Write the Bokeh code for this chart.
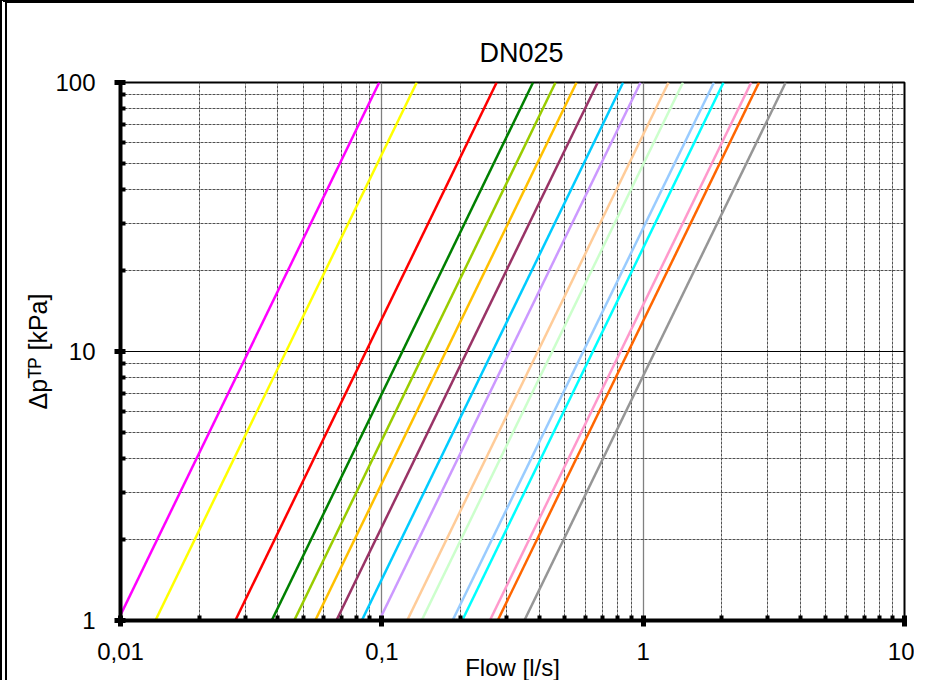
from bokeh.plotting import figure
from bokeh.models import FixedTicker, CustomJSTickFormatter, Title
from bokeh.embed import file_html
from bokeh.resources import INLINE

# Flow [l/s] read at Δp = 1 kPa and at Δp = 100 kPa for each curve
flow_at_1kpa = [0.00977, 0.0136, 0.0275, 0.0379, 0.0462, 0.0556, 0.0670, 0.0838,
                0.0977, 0.1250, 0.1420, 0.1865, 0.2030, 0.2590, 0.2775, 0.3510]
flow_at_100kpa = [0.0977, 0.136, 0.275, 0.379, 0.462, 0.556, 0.670, 0.838,
                  0.977, 1.250, 1.420, 1.865, 2.030, 2.590, 2.775, 3.510]
dp_ends = [1, 100]
colors = ["#FF00FF", "#FFFF00", "#FF0000", "#008000", "#99CC00", "#FFC000",
          "#993366", "#00CCFF", "#CC99FF", "#FFCC99", "#CCFFCC", "#99CCFF",
          "#00FFFF", "#FF99CC", "#FF6600", "#969696"]
x_major = [0.01, 0.1, 1, 10]
y_major = [1, 10, 100]

FONT = "Liberation Sans"

p = figure(width=914, height=680, x_axis_type="log", y_axis_type="log",
           x_range=(0.01, 10), y_range=(1, 100),
           output_backend="svg", toolbar_location=None,
           min_border_left=113, min_border_right=17,
           min_border_top=79, min_border_bottom=63,
           background_fill_color="white", border_fill_color="white")

t = Title(text="DN025", align="left", text_font=FONT, text_font_size="27px",
          text_font_style="normal", text_color="black", offset=359, standoff=29)
p.add_layout(t, "above")

for q1, q100, c in zip(flow_at_1kpa, flow_at_100kpa, colors):
    p.line([q1, q100], dp_ends, line_color=c, line_width=2.5)

x_minor = [m * 10.0 ** e for e in (-2, -1, 0) for m in range(2, 10)]
y_minor = [m * 10.0 ** e for e in (0, 1) for m in range(2, 10)]
p.xaxis.ticker = FixedTicker(ticks=x_major, minor_ticks=x_minor)
p.yaxis.ticker = FixedTicker(ticks=y_major, minor_ticks=y_minor)
p.xaxis.formatter = CustomJSTickFormatter(code="return tick.toString().replace('.', ',');")
p.yaxis.formatter = CustomJSTickFormatter(code="return tick.toString();")

p.xaxis.axis_label = "Flow [l/s]"
p.yaxis.axis_label = "Δp\u1d40\u1d3e [kPa]"

for ax in (p.xaxis[0], p.yaxis[0]):
    ax.axis_line_color = "black"
    ax.axis_line_width = 4
    ax.major_tick_line_color = "black"
    ax.major_tick_line_width = 5
    ax.major_tick_in = 5
    ax.major_tick_out = 6
    ax.minor_tick_line_color = "black"
    ax.minor_tick_line_width = 4
    ax.minor_tick_in = 5
    ax.minor_tick_out = 0
    ax.major_label_text_font = FONT
    ax.major_label_text_font_size = "24px"
    ax.major_label_text_color = "black"
    ax.axis_label_text_font = FONT
    ax.axis_label_text_font_size = "25px"
    ax.axis_label_text_font_style = "normal"
    ax.axis_label_text_color = "black"

p.xaxis.axis_label_text_font_size = "24px"
p.xaxis.major_label_standoff = 16
p.xaxis.axis_label_standoff = -9
p.yaxis.major_label_standoff = 19
p.yaxis.axis_label_standoff = 0

p.xgrid.grid_line_color = "#808080"
p.xgrid.grid_line_width = 1.3
p.ygrid.grid_line_color = "black"
p.ygrid.grid_line_width = 1
for g in (p.xgrid[0], p.ygrid[0]):
    g.minor_grid_line_color = "#505050"
    g.minor_grid_line_width = 1
    g.minor_grid_line_dash = "3 1"

p.outline_line_color = "black"
p.outline_line_width = 2

p.styles = {"border-left": "7px double #000000", "border-top": "3px solid #000000"}

open("out.html", "w").write(file_html(p, INLINE))
